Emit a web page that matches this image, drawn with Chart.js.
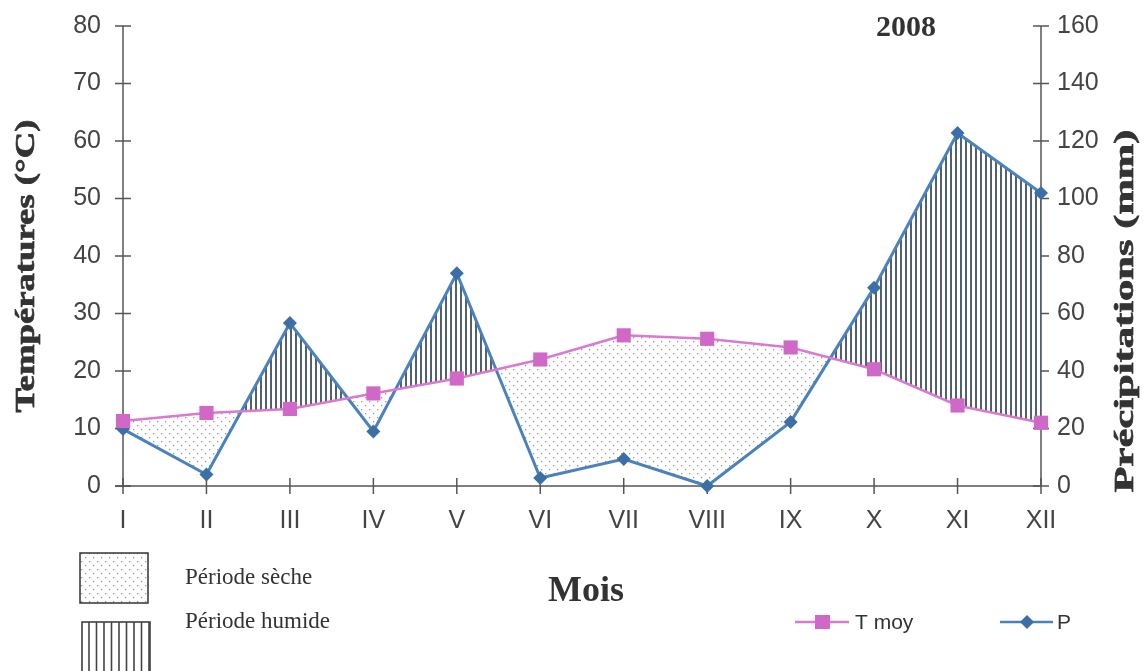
<!DOCTYPE html>
<html>
<head>
<meta charset="utf-8">
<script src="https://cdn.jsdelivr.net/npm/chart.js@4/dist/chart.umd.min.js"></script>
<style>
    body { margin: 0; background: #fff; }
    #wrap { position: relative; width: 1143px; height: 671px; }
</style>
</head>
<body>
<div id="wrap"><canvas id="chart"></canvas></div>
<script>
// data
const months = ['I', 'II', 'III', 'IV', 'V', 'VI', 'VII', 'VIII', 'IX', 'X', 'XI', 'XII'];
const tMoy = [11.3, 12.7, 13.4, 16.1, 18.7, 22.0, 26.2, 25.6, 24.1, 20.3, 14.0, 11.0];
const precip = [19.8, 4.0, 56.7, 19.0, 74.0, 2.8, 9.4, 0, 22.3, 69.0, 122.8, 101.9];
const tempTicks = [0, 10, 20, 30, 40, 50, 60, 70, 80];
const precipTicks = [0, 20, 40, 60, 80, 100, 120, 140, 160];
const seriesNames = ['T moy', 'P'];
const periodNames = ['Période sèche', 'Période humide'];

const SANS = '"Liberation Sans", Arial, sans-serif';
const SERIF = '"Liberation Serif", "Times New Roman", serif';
const pinkLine = '#d87ad2';
const pinkMark = '#cf68c7';
const blueLine = '#4a82bd';
const blueMark = '#3b6fa6';
const axisCol = '#555';

function makePattern(w, h, draw) {
    const c = document.createElement('canvas');
    c.width = w; c.height = h;
    draw(c.getContext('2d'));
    return c.getContext('2d').createPattern(c, 'repeat');
}

// sparse grey dots for the dry period
const dots = makePattern(8, 8, g => {
    g.fillStyle = '#ffffff';
    g.fillRect(0, 0, 8, 8);
    g.fillStyle = '#999999';
    g.fillRect(1, 1, 1.3, 1.3);
    g.fillRect(5, 5, 1.3, 1.3);
});

// vertical hatching for the humid period
const hatch = makePattern(5, 5, g => {
    g.fillStyle = '#ffffff';
    g.fillRect(0, 0, 5, 5);
    g.fillStyle = '#526172';
    g.fillRect(0, 0, 2, 5);
});

function line(ctx, x1, y1, x2, y2) {
    ctx.beginPath();
    ctx.moveTo(x1, y1);
    ctx.lineTo(x2, y2);
    ctx.stroke();
}

// rotated text stretched to a given length (reads bottom to top)
function vText(ctx, text, x, y, len, font) {
    ctx.save();
    ctx.translate(x, y);
    ctx.rotate(-Math.PI / 2);
    ctx.font = font;
    const w = ctx.measureText(text).width;
    ctx.scale(len / w, 1);
    ctx.textAlign = 'center';
    ctx.textBaseline = 'middle';
    ctx.lineWidth = 0.7;
    ctx.strokeStyle = ctx.fillStyle;
    ctx.fillText(text, 0, 0);
    ctx.strokeText(text, 0, 0);
    ctx.restore();
}

const axesPlugin = {
    id: 'axes',
    beforeDatasetsDraw(chart) {
        const ctx = chart.ctx;
        const {left, right, top, bottom} = chart.chartArea;
        const sc = chart.scales;
        ctx.save();
        ctx.strokeStyle = axisCol;
        ctx.lineWidth = 1.5;
        line(ctx, left, top, left, bottom);
        line(ctx, right, top, right, bottom);
        line(ctx, left - 8, bottom, right, bottom);
        tempTicks.forEach(v => {
            const y = sc.y.getPixelForValue(v);
            line(ctx, left - 8, y, left + 8, y);
        });
        precipTicks.forEach(v => {
            const y = sc.y1.getPixelForValue(v);
            line(ctx, right - 8, y, right + 8, y);
        });
        months.forEach((m, i) => {
            const x = sc.x.getPixelForValue(i);
            line(ctx, x, bottom - 8, x, bottom + 8);
        });
        ctx.restore();
    },
    afterDraw(chart) {
        const ctx = chart.ctx;
        ctx.save();
        ctx.fillStyle = '#333';
        vText(ctx, 'Températures (°C)', 27, 266, 293, 'bold 28px ' + SERIF);
        vText(ctx, 'Précipitations (mm)', 1126, 311, 363, 'bold 28px ' + SERIF);

        ctx.textBaseline = 'middle';
        ctx.textAlign = 'center';
        ctx.font = 'bold 30px ' + SERIF;
        ctx.fillText('2008', 906, 28);
        ctx.font = 'bold 36px ' + SERIF;
        ctx.fillText('Mois', 586, 592);

        // period legend boxes
        ctx.strokeStyle = '#333';
        ctx.lineWidth = 1.5;
        ctx.fillStyle = dots;
        ctx.fillRect(80, 553, 68, 50);
        ctx.strokeRect(80, 553, 68, 50);
        ctx.fillStyle = '#fff';
        ctx.fillRect(82, 622, 68, 52);
        ctx.strokeRect(82, 622, 68, 52);
        ctx.strokeStyle = '#444';
        ctx.lineWidth = 1.6;
        for (let x = 89; x < 150; x += 7.5) line(ctx, x, 622, x, 674);

        ctx.fillStyle = '#333';
        ctx.textAlign = 'left';
        ctx.font = '23px ' + SERIF;
        ctx.fillText(periodNames[0], 185, 578);
        ctx.fillText(periodNames[1], 185, 622);

        // series legend
        ctx.lineWidth = 2.5;
        ctx.strokeStyle = pinkLine;
        line(ctx, 795, 622, 849, 622);
        ctx.fillStyle = pinkMark;
        ctx.fillRect(815, 615, 15, 14);
        ctx.strokeStyle = blueLine;
        line(ctx, 1000, 622, 1053, 622);
        ctx.fillStyle = blueMark;
        ctx.beginPath();
        ctx.moveTo(1027, 615); ctx.lineTo(1034, 622); ctx.lineTo(1027, 629); ctx.lineTo(1020, 622);
        ctx.closePath();
        ctx.fill();
        ctx.fillStyle = '#333';
        ctx.font = '21px ' + SANS;
        ctx.fillText(seriesNames[0], 855, 623);
        ctx.fillText(seriesNames[1], 1057, 623);
        ctx.restore();
    }
};

const tickFont = {family: SANS, size: 25};

// fixed box sizes so the plot area sits where it does in the original
function fitY(width) {
    return s => {
        s.width = width;
        s.paddingTop = 0;
        s.paddingBottom = 0;
    };
}

new Chart(document.getElementById('chart'), {
    type: 'line',
    data: {
        labels: months,
        datasets: [
            {
                label: seriesNames[0],
                data: tMoy,
                yAxisID: 'y',
                borderColor: pinkLine,
                borderWidth: 2.5,
                pointStyle: 'rect',
                pointRadius: 10,
                pointBackgroundColor: pinkMark,
                pointBorderColor: pinkMark,
                pointBorderWidth: 0,
                fill: false,
                clip: false
            },
            {
                label: seriesNames[1],
                data: precip,
                yAxisID: 'y1',
                borderColor: blueLine,
                borderWidth: 3,
                pointStyle: 'rectRot',
                pointRadius: 7,
                pointBackgroundColor: blueMark,
                pointBorderColor: blueMark,
                pointBorderWidth: 0,
                fill: {target: 0, above: hatch, below: dots},
                clip: false
            }
        ]
    },
    options: {
        responsive: true,
        maintainAspectRatio: false,
        animation: false,
        layout: {padding: {top: 26, left: 0, right: 0, bottom: 0}},
        plugins: {
            legend: {display: false},
            tooltip: {enabled: false}
        },
        elements: {line: {tension: 0}},
        scales: {
            x: {
                type: 'category',
                offset: false,
                grid: {display: false, drawTicks: false},
                border: {display: false},
                ticks: {font: tickFont, color: '#444', padding: 20, maxRotation: 0, autoSkip: false},
                afterFit: s => { s.height = 185; }
            },
            y: {
                position: 'left',
                min: 0,
                max: 80,
                grid: {display: false, drawTicks: false},
                border: {display: false},
                ticks: {font: tickFont, color: '#444', padding: 22},
                afterBuildTicks: s => { s.ticks = tempTicks.map(v => ({value: v})); },
                afterFit: fitY(123)
            },
            y1: {
                position: 'right',
                min: 0,
                max: 160,
                grid: {display: false, drawTicks: false},
                border: {display: false},
                ticks: {font: tickFont, color: '#444', padding: 16},
                afterBuildTicks: s => { s.ticks = precipTicks.map(v => ({value: v})); },
                afterFit: fitY(102)
            }
        }
    },
    plugins: [axesPlugin]
});
</script>
</body>
</html>
